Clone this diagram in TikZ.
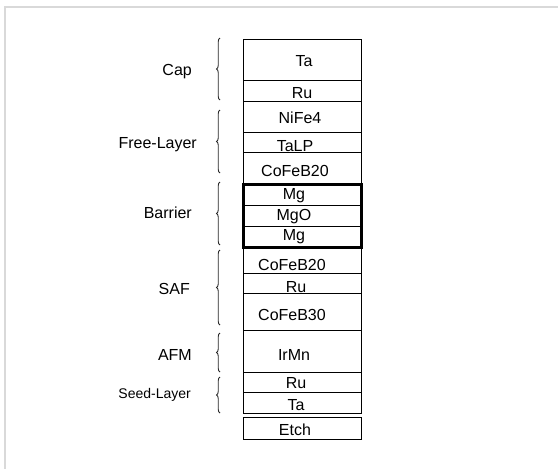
\documentclass[tikz,border=0pt]{standalone}
\usepackage{fontspec}
\setmainfont{Liberation Sans}
\usetikzlibrary{decorations.pathreplacing}

% one layer of the stack: name, top, bottom, text, text x, text baseline
\newcommand\stacklayer[6]{%
  \node[layerbox, minimum height={#3-#2}] (#1) at (302,{(#2+#3)/2}) {};
  \node[layertext] (#1-t) at (#5,#6) {#4};
}
% brace with its group label: name, top, bottom, label, label right end, baseline
\newcommand\stackgroup[6]{%
  \draw[groupbrace] (220,#3) -- (220,#2);
  \node[grouptext] (#1) at (#5,#6) {#4};
}

\begin{document}
\begin{tikzpicture}[x=1pt,y=-1pt,
  layerbox/.style={draw=black, line width=1pt, minimum width=118pt, inner sep=0pt},
  layertext/.style={anchor=base, inner sep=0pt, font=\fontsize{16}{18}\selectfont},
  grouptext/.style={anchor=base east, inner sep=0pt, font=\fontsize{16}{18}\selectfont},
  groupbrace/.style={draw=black!85, line width=0.9pt,
    decorate, decoration={brace, amplitude=3.5pt}},
  frameline/.style={draw=black!15, line width=1.5pt}]
\useasboundingbox (0,0) rectangle (558,469);

% light frame along the top and left edge
\draw[frameline] (4.75,469) -- (4.75,6.75) -- (558,6.75);

% the layer stack
\stacklayer{capTa}{39}{80}{Ta}{304}{66}
\stacklayer{capRu}{80}{101}{Ru}{302}{98}
\stacklayer{nife}{101}{132}{NiFe4}{300}{123}
\stacklayer{talp}{132}{152}{TaLP}{295}{151}
\stacklayer{cofebA}{152}{184}{CoFeB20}{295}{176}
\stacklayer{mgA}{184}{205}{Mg}{294}{199}
\stacklayer{mgo}{205}{226}{MgO}{294}{220}
\stacklayer{mgB}{226}{247}{Mg}{294}{240}
\stacklayer{cofebB}{247}{273}{CoFeB20}{292}{270}
\stacklayer{safRu}{273}{293}{Ru}{296}{292}
\stacklayer{cofebC}{293}{330}{CoFeB30}{292}{320}
\stacklayer{irmn}{330}{372}{IrMn}{294}{360}
\stacklayer{seedRu}{372}{392}{Ru}{296}{388}
\stacklayer{seedTa}{392}{413}{Ta}{296}{410}
\node[layerbox, minimum height=22] (etch) at (302,428) {};
\node[layertext] (etch-t) at (295,435) {Etch};

% heavy outline round the tunnel barrier
\node[draw=black, line width=3pt, minimum width=118pt, minimum height=63pt,
  inner sep=0pt] (barrier) at (302,215.5) {};

% group braces and their names
\stackgroup{gCap}{38}{100}{Cap}{192}{75}
\stackgroup{gFree}{110}{173}{Free-Layer}{197}{148}
\stackgroup{gBar}{182}{245}{Barrier}{192}{218}
\stackgroup{gSaf}{250}{325}{SAF}{190}{294}
\stackgroup{gAfm}{333}{372}{AFM}{192}{360}
\draw[groupbrace] (220,413) -- (220,377);
\node[grouptext, font=\fontsize{14}{16}\selectfont] (gSeed) at (191,398) {Seed-Layer};
\end{tikzpicture}
\end{document}
